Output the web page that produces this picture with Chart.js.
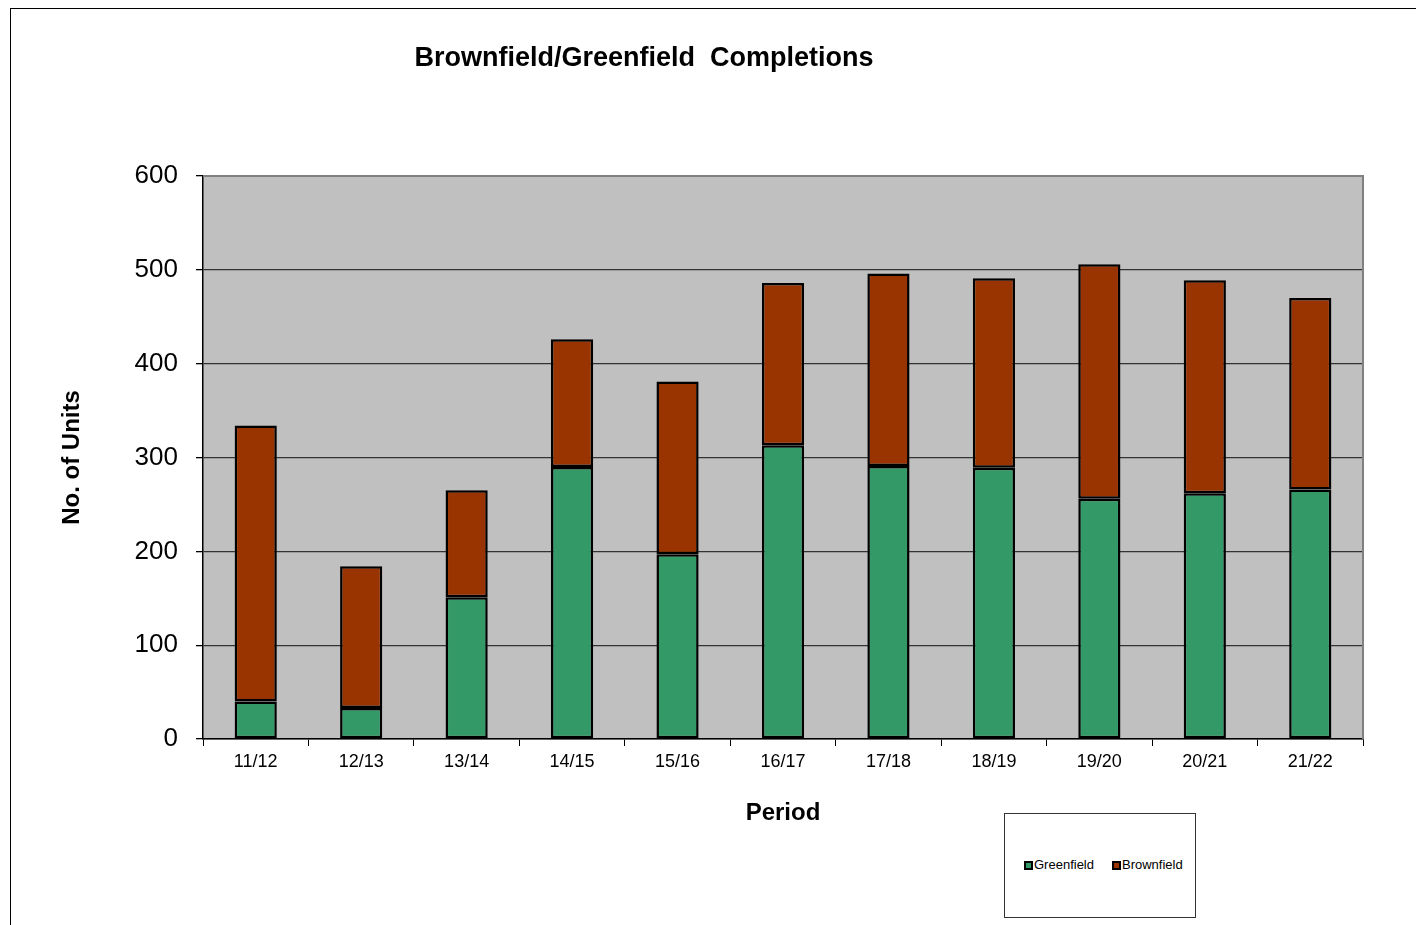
<!DOCTYPE html>
<html>
<head>
<meta charset="utf-8">
<script src="https://cdn.jsdelivr.net/npm/chart.js@4/dist/chart.umd.min.js"></script>
<style>
  html, body { margin: 0; padding: 0; background: #fff; }
  #wrap { position: relative; width: 1416px; height: 925px; }
  #legend {
    position: absolute; left: 1004px; top: 813px; width: 190px; height: 103px;
    border: 1px solid #333; background: #fff;
    font: 13px "Liberation Sans", Arial, sans-serif; color: #000;
  }
  #legend span.item { position: absolute; top: 43px; white-space: nowrap; }
  #legend i { display: inline-block; width: 5px; height: 5px; border: 2px solid #000; margin-right: 1px; vertical-align: -1px; }
</style>
</head>
<body>
<div id="wrap">
  <canvas id="chart" width="1416" height="925"></canvas>
  <div id="legend"></div>
</div>
<script>
const periods = ['11/12', '12/13', '13/14', '14/15', '15/16', '16/17', '17/18', '18/19', '19/20', '20/21', '21/22'];
const greenfield = [40, 33, 151, 290, 197, 313, 291, 289, 256, 262, 266];
const brownfield = [294, 151, 114, 136, 184, 173, 205, 202, 250, 227, 204];
const seriesNames = ['Greenfield', 'Brownfield'];
const seriesColors = ['#339966', '#993300'];

const fontFamily = '"Liberation Sans", Arial, sans-serif';

const frame = {
  id: 'frame',
  beforeDraw(chart) {
    const { ctx, chartArea: a } = chart;
    ctx.save();
    ctx.fillStyle = '#fff';
    ctx.fillRect(0, 0, chart.width, chart.height);
    ctx.strokeStyle = '#000';
    ctx.lineWidth = 1;
    ctx.strokeRect(10.5, 8.5, 1430, 940);
    ctx.fillStyle = '#c0c0c0';
    ctx.fillRect(a.left, a.top, a.right - a.left, a.bottom - a.top);
    ctx.restore();
  },
  beforeDatasetsDraw(chart) {
    const { ctx, chartArea: a } = chart;
    ctx.save();
    ctx.strokeStyle = '#808080';
    ctx.lineWidth = 2;
    ctx.beginPath();
    ctx.moveTo(a.left, a.top);
    ctx.lineTo(a.right, a.top);
    ctx.lineTo(a.right, a.bottom);
    ctx.stroke();
    ctx.restore();
  },
  afterDraw(chart) {
    const { ctx } = chart;
    ctx.save();
    ctx.fillStyle = '#000';
    ctx.font = 'bold 27px ' + fontFamily;
    ctx.textAlign = 'center';
    ctx.textBaseline = 'middle';
    ctx.fillText('Brownfield/Greenfield  Completions', 644, 59);
    ctx.restore();
  }
};

new Chart(document.getElementById('chart'), {
  type: 'bar',
  data: {
    labels: periods,
    datasets: [
      { label: seriesNames[0], data: greenfield, backgroundColor: seriesColors[0], borderColor: '#000', borderWidth: 2.5, borderSkipped: false },
      { label: seriesNames[1], data: brownfield, backgroundColor: seriesColors[1], borderColor: '#000', borderWidth: 2.5, borderSkipped: false }
    ]
  },
  options: {
    responsive: false,
    animation: false,
    layout: { padding: { left: 53, right: 53, top: 176, bottom: 86 } },
    datasets: { bar: { categoryPercentage: 1, barPercentage: 0.4 } },
    plugins: {
      legend: { display: false },
      tooltip: { enabled: false },
      title: { display: false }
    },
    scales: {
      x: {
        stacked: true,
        afterFit: s => { s.height = 100; },
        grid: { drawOnChartArea: false, drawTicks: true, tickLength: 7, color: '#000', offset: true },
        border: { color: '#000', width: 1.5 },
        ticks: { color: '#000', padding: 5, font: { family: fontFamily, size: 18 } },
        title: { display: true, text: 'Period', color: '#000', padding: { top: 0, bottom: 11 }, font: { family: fontFamily, size: 24, weight: 'bold' } }
      },
      y: {
        stacked: true,
        min: 0,
        max: 600,
        afterFit: s => { s.width = 150; },
        grid: { color: '#333', lineWidth: 1.3, tickLength: 7, tickColor: '#000' },
        border: { color: '#000', width: 1.5 },
        ticks: { stepSize: 100, color: '#000', padding: 18, font: { family: fontFamily, size: 26 } },
        title: { display: true, text: 'No. of Units', color: '#000', padding: { top: 5, bottom: 0 }, font: { family: fontFamily, size: 24, weight: 'bold' } }
      }
    }
  },
  plugins: [frame]
});

const legend = document.getElementById('legend');
const legendX = [19, 107];
seriesNames.forEach((name, i) => {
  const el = document.createElement('span');
  el.className = 'item';
  el.style.left = legendX[i] + 'px';
  el.innerHTML = '<i style="background:' + seriesColors[i] + '"></i>' + name;
  legend.appendChild(el);
});
</script>
</body>
</html>
